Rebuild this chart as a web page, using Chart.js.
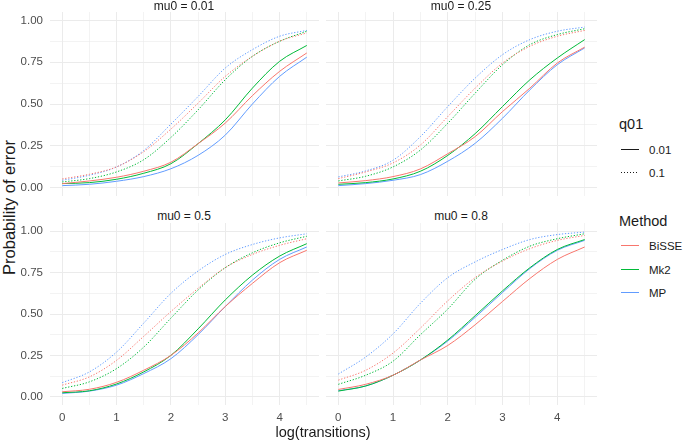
<!DOCTYPE html>
<html>
<head>
<meta charset="utf-8">
<script src="https://cdn.jsdelivr.net/npm/chart.js@4"></script>
<style>
  body { margin: 0; background: #fff; font-family: "Liberation Sans", Arial, sans-serif; }
  #wrap { position: relative; width: 685px; height: 441px; background: #fff; overflow: hidden; }
  canvas { position: absolute; }
  .txt { position: absolute; white-space: nowrap; color: #1a1a1a; }
  .strip { font-size: 12px; text-align: center; width: 200px; line-height: 14px; }
  .key { position: absolute; width: 18px; height: 1px; }
  .lab { position: absolute; font-size: 11.5px; line-height: 14px; color: #1a1a1a; }
</style>
</head>
<body>
<div id="wrap">
  <canvas id="c1" width="299" height="184" style="left:20px;top:12px"></canvas>
  <canvas id="c2" width="271" height="184" style="left:326px;top:12px"></canvas>
  <canvas id="c3" width="299" height="205" style="left:20px;top:223px"></canvas>
  <canvas id="c4" width="271" height="205" style="left:326px;top:223px"></canvas>

  <div class="txt strip" style="left:84px;top:-1px">mu0 = 0.01</div>
  <div class="txt strip" style="left:361px;top:-1px">mu0 = 0.25</div>
  <div class="txt strip" style="left:84px;top:209px">mu0 = 0.5</div>
  <div class="txt strip" style="left:361px;top:209px">mu0 = 0.8</div>

  <div class="txt" style="left:223px;top:424px;width:200px;text-align:center;font-size:14.5px;line-height:17px">log(transitions)</div>
  <div class="txt" style="left:-91px;top:198px;width:200px;text-align:center;font-size:16.5px;line-height:19px;transform:rotate(-90deg)">Probability of error</div>

  <div id="legend"></div>
</div>
<script>
// x positions of the summary points
const xs = [0, 0.5, 1, 1.5, 2, 2.5, 3, 3.5, 4, 4.5];
const methods = ['BiSSE', 'Mk2', 'MP'];
const methodColors = ['#F8766D', '#00BA38', '#619CFF'];
const q01Levels = ['0.01', '0.1'];
const xTicks = [0, 1, 2, 3, 4];
const yTicks = [0, 0.25, 0.5, 0.75, 1];

// mu0 = 0.01
const mu001_q001_BiSSE = [0.024, 0.04, 0.062, 0.098, 0.152, 0.263, 0.386, 0.55, 0.695, 0.805];
const mu001_q001_Mk2   = [0.024, 0.03, 0.05, 0.086, 0.143, 0.263, 0.405, 0.595, 0.755, 0.85];
const mu001_q001_MP    = [0.012, 0.02, 0.038, 0.066, 0.113, 0.193, 0.314, 0.50, 0.665, 0.78];
const mu001_q01_BiSSE  = [0.052, 0.08, 0.124, 0.215, 0.35, 0.505, 0.665, 0.785, 0.875, 0.925];
const mu001_q01_Mk2    = [0.034, 0.054, 0.094, 0.167, 0.30, 0.465, 0.645, 0.785, 0.875, 0.935];
const mu001_q01_MP     = [0.044, 0.074, 0.124, 0.222, 0.38, 0.545, 0.715, 0.825, 0.905, 0.94];

// mu0 = 0.25
const mu025_q001_BiSSE = [0.028, 0.042, 0.066, 0.112, 0.203, 0.305, 0.455, 0.595, 0.745, 0.84];
const mu025_q001_Mk2   = [0.02, 0.03, 0.052, 0.098, 0.193, 0.323, 0.485, 0.645, 0.775, 0.885];
const mu025_q001_MP    = [0.012, 0.024, 0.044, 0.078, 0.158, 0.265, 0.415, 0.585, 0.735, 0.835];
const mu025_q01_BiSSE  = [0.054, 0.094, 0.148, 0.255, 0.425, 0.595, 0.745, 0.845, 0.905, 0.94];
const mu025_q01_Mk2    = [0.04, 0.068, 0.124, 0.225, 0.385, 0.565, 0.735, 0.855, 0.915, 0.95];
const mu025_q01_MP     = [0.064, 0.10, 0.164, 0.305, 0.485, 0.655, 0.795, 0.885, 0.935, 0.96];

// mu0 = 0.5
const mu05_q001_BiSSE = [0.03, 0.045, 0.087, 0.16, 0.25, 0.385, 0.545, 0.685, 0.81, 0.885];
const mu05_q001_Mk2   = [0.024, 0.036, 0.077, 0.15, 0.25, 0.41, 0.585, 0.735, 0.85, 0.925];
const mu05_q001_MP    = [0.02, 0.034, 0.07, 0.14, 0.23, 0.375, 0.545, 0.705, 0.83, 0.905];
const mu05_q01_BiSSE  = [0.07, 0.12, 0.22, 0.365, 0.515, 0.655, 0.78, 0.86, 0.915, 0.955];
const mu05_q01_Mk2    = [0.05, 0.09, 0.17, 0.30, 0.475, 0.645, 0.78, 0.87, 0.93, 0.97];
const mu05_q01_MP     = [0.085, 0.15, 0.27, 0.445, 0.625, 0.76, 0.86, 0.92, 0.96, 0.985];

// mu0 = 0.8
const mu08_q001_BiSSE = [0.044, 0.075, 0.13, 0.222, 0.31, 0.435, 0.576, 0.715, 0.83, 0.905];
const mu08_q001_Mk2   = [0.034, 0.065, 0.13, 0.222, 0.343, 0.49, 0.64, 0.78, 0.89, 0.95];
const mu08_q001_MP    = [0.036, 0.065, 0.13, 0.222, 0.337, 0.48, 0.63, 0.775, 0.885, 0.945];
const mu08_q01_BiSSE  = [0.1, 0.16, 0.264, 0.415, 0.58, 0.72, 0.82, 0.895, 0.945, 0.975];
const mu08_q01_Mk2    = [0.075, 0.13, 0.215, 0.375, 0.53, 0.71, 0.825, 0.91, 0.955, 0.985];
const mu08_q01_MP     = [0.137, 0.24, 0.38, 0.565, 0.72, 0.815, 0.89, 0.95, 0.98, 0.995];

// panel -> q01 level -> method
const table = [
  [[mu001_q001_BiSSE, mu001_q001_Mk2, mu001_q001_MP], [mu001_q01_BiSSE, mu001_q01_Mk2, mu001_q01_MP]],
  [[mu025_q001_BiSSE, mu025_q001_Mk2, mu025_q001_MP], [mu025_q01_BiSSE, mu025_q01_Mk2, mu025_q01_MP]],
  [[mu05_q001_BiSSE, mu05_q001_Mk2, mu05_q001_MP], [mu05_q01_BiSSE, mu05_q01_Mk2, mu05_q01_MP]],
  [[mu08_q001_BiSSE, mu08_q001_Mk2, mu08_q001_MP], [mu08_q01_BiSSE, mu08_q01_Mk2, mu08_q01_MP]]
];

const tickFont = { family: '"Liberation Sans", Arial, sans-serif', size: 11.5 };
const gridX = [0, 0.5, 1, 1.5, 2, 2.5, 3, 3.5, 4, 4.5];
const gridY = [0, 0.125, 0.25, 0.375, 0.5, 0.625, 0.75, 0.875, 1];

function noPad(s){
    s.paddingTop = 0; s.paddingBottom = 0; s.paddingLeft = 0; s.paddingRight = 0;
}

function panel(id, p, showY, showX){
    const datasets = [];
    q01Levels.forEach(function(q, qi){
        methods.forEach(function(m, mi){
            datasets.push({
                label: m + ' ' + q,
                data: xs.map((x, i) => ({ x: x, y: table[p][qi][mi][i] })),
                borderColor: methodColors[mi],
                borderWidth: 1,
                borderDash: qi ? [1.3, 1.7] : [],
                pointRadius: 0,
                cubicInterpolationMode: 'monotone',
                fill: false
            });
        });
    });

    new Chart(document.getElementById(id), {
        type: 'line',
        data: { datasets: datasets },
        options: {
            responsive: false,
            animation: false,
            layout: { padding: 0 },
            plugins: { legend: { display: false }, tooltip: { enabled: false } },
            scales: {
                x: {
                    type: 'linear', min: -0.225, max: 4.725,
                    afterBuildTicks: s => { s.ticks = gridX.map(v => ({ value: v })) },
                    afterFit: s => { s.height = showX ? 23 : 0; noPad(s) },
                    grid: { color: '#ebebeb', lineWidth: c => (c.tick && c.tick.value % 1 === 0) ? 1 : 0.6, drawTicks: false },
                    border: { display: false },
                    ticks: {
                        display: showX, autoSkip: false, maxRotation: 0, padding: 6,
                        color: '#4d4d4d', font: tickFont,
                        callback: v => xTicks.includes(v) ? String(v) : ''
                    }
                },
                y: {
                    type: 'linear', min: -0.05, max: 1.05,
                    afterBuildTicks: s => { s.ticks = gridY.map(v => ({ value: v })) },
                    afterFit: s => { s.width = showY ? 30 : 0; noPad(s) },
                    grid: { color: '#ebebeb', lineWidth: c => (c.tick && yTicks.includes(c.tick.value)) ? 1 : 0.6, drawTicks: false },
                    border: { display: false },
                    ticks: {
                        display: showY, autoSkip: false, padding: 7,
                        color: '#4d4d4d', font: tickFont,
                        callback: v => yTicks.includes(v) ? v.toFixed(2) : ''
                    }
                }
            }
        }
    });
}

panel('c1', 0, true, false);
panel('c2', 1, false, false);
panel('c3', 2, true, true);
panel('c4', 3, false, true);

// legend
let html = '';
html += '<div class="txt" style="left:619px;top:116px;font-size:14.5px;line-height:17px">q01</div>';
html += '<div class="key" style="left:621px;top:149px;background:#1a1a1a"></div>';
html += '<div class="lab" style="left:649px;top:143px">' + q01Levels[0] + '</div>';
html += '<div class="key" style="left:621px;top:172px;background:repeating-linear-gradient(to right,#1a1a1a 0 1.3px,transparent 1.3px 3px)"></div>';
html += '<div class="lab" style="left:649px;top:166px">' + q01Levels[1] + '</div>';
html += '<div class="txt" style="left:619px;top:213px;font-size:14.5px;line-height:17px">Method</div>';
const keyTops = [245, 269, 292];
methods.forEach(function(m, i){
    html += '<div class="key" style="left:621px;top:' + keyTops[i] + 'px;background:' + methodColors[i] + '"></div>';
    html += '<div class="lab" style="left:649px;top:' + (keyTops[i] - 6) + 'px">' + m + '</div>';
});
document.getElementById('legend').innerHTML = html;
</script>
</body>
</html>
